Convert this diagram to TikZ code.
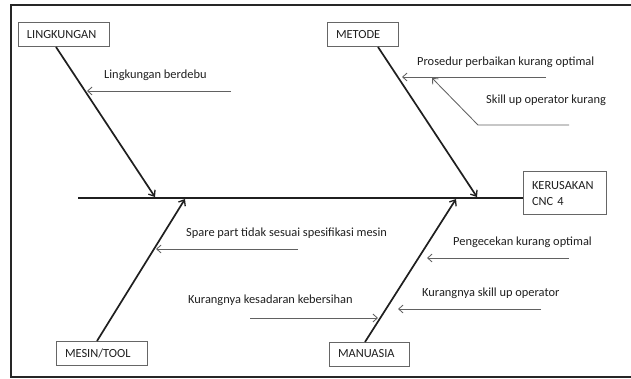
\documentclass[tikz,border=0pt]{standalone}
\usepackage{fontspec}
\setmainfont{Carlito}
\usetikzlibrary{arrows.meta,calc}
\begin{document}
\begin{tikzpicture}[x=1pt,y=-1pt,
  every node/.style={font=\fontsize{12.4}{14.5}\selectfont, text=black!88},
  catbox/.style={draw=black!60, line width=1pt, minimum height=24pt, inner xsep=9pt, inner ysep=0pt, align=left},
  lbl/.style={anchor=west, inner sep=0pt},
  bone/.style={line width=1.7pt, draw=black!88, -{Straight Barb[length=5pt,width=8pt,line width=1.3pt]}},
  sub/.style={line width=0.85pt, draw=black!62, -{Straight Barb[length=4.5pt,width=8pt,line width=0.85pt]}},
  frame/.style={line width=2.2pt, draw=black!85}
]
\useasboundingbox (0,0) rectangle (631,379);
% frame
\draw[frame] (640,5) -- (11,5) -- (11,377) -- (640,377);

% category boxes
\node[catbox, text width=73pt] (L) at (63.5,35) {LINGKUNGAN};
\node[catbox, text width=53pt] (M) at (362.5,35) {METODE};
\node[catbox, text width=73pt] (T) at (101.5,353) {MESIN/TOOL};
\node[catbox, text width=62pt] (H) at (369,354) {MANUASIA};
\node[catbox, text width=65pt, minimum height=43pt, align=left, font=\fontsize{12.4}{16}\selectfont] (K) at (564.5,193.5) {KERUSAKAN\\CNC 4};

% spine
\coordinate (s0) at (78,198);
\draw[line width=1.7pt, draw=black!88] (s0) -- (K.west|-s0);

% bones
\coordinate (l0) at (56,47);   \coordinate (l1) at (155,197);
\coordinate (m0) at (378,47);  \coordinate (m1) at (477,197);
\coordinate (t0) at (97,341);  \coordinate (t1) at (185,199);
\coordinate (h0) at (365,342); \coordinate (h1) at (456,199);
\draw[bone] (l0) -- (l1);
\draw[bone] (m0) -- (m1);
\draw[bone] (t0) -- (t1);
\draw[bone] (h0) -- (h1);

% labels
\node[lbl] (a1) at (104,75) {Lingkungan berdebu};
\node[lbl] (b1) at (417,62) {Prosedur perbaikan kurang optimal};
\node[lbl] (b2) at (486,100) {Skill up operator kurang};
\node[lbl] (c1) at (186,233) {Spare part tidak sesuai spesifikasi mesin};
\node[lbl] (c2) at (188,300) {Kurangnya kesadaran kebersihan};
\node[lbl] (d1) at (453,242) {Pengecekan kurang optimal};
\node[lbl] (d2) at (422,293) {Kurangnya skill up operator};

% sub-cause arrows
\coordinate (a1s) at (231,91);  \coordinate (a1e) at (87,91);
\coordinate (b1s) at (546,77);  \coordinate (b1e) at (402,77);
\coordinate (b2s) at (569,125); \coordinate (b2m) at (478,125); \coordinate (b2e) at (432,78);
\coordinate (c1s) at (298,249); \coordinate (c1e) at (156,249);
\coordinate (c2s) at (250,318); \coordinate (c2e) at (378,318);
\coordinate (d1s) at (569,258); \coordinate (d1e) at (427,258);
\coordinate (d2s) at (541,309); \coordinate (d2e) at (398,309);
\draw[sub] (a1s) -- (a1e);
\draw[sub] (b1s) -- (b1e);
\draw[sub] (b2s) -- (b2m) -- (b2e);
\draw[sub] (c1s) -- (c1e);
\draw[sub] (c2s) -- (c2e);
\draw[sub] (d1s) -- (d1e);
\draw[sub] (d2s) -- (d2e);
\end{tikzpicture}
\end{document}
